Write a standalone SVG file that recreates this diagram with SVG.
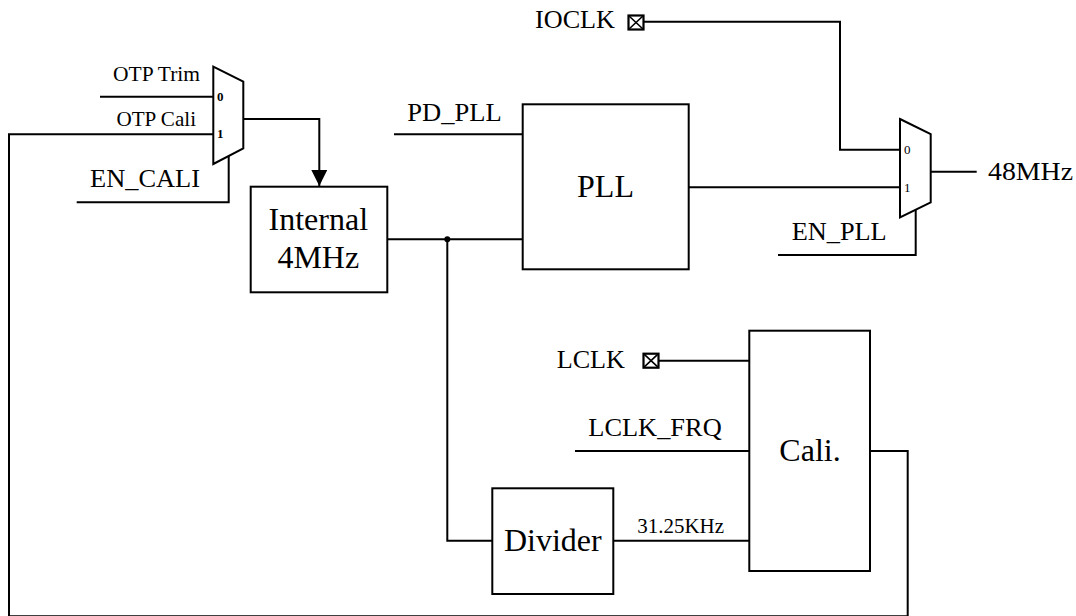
<svg xmlns="http://www.w3.org/2000/svg" width="1076" height="616" viewBox="0 0 1076 616">
<defs>
<style>
.ln{fill:none;stroke:#000;stroke-width:2;stroke-linejoin:miter}
.bx{fill:#fff;stroke:#000;stroke-width:2}
.t{font-family:'Liberation Serif','DejaVu Serif',serif;fill:#000}
.big{font-size:32px}
.med{font-size:26px}
.sm{font-size:21px}
.pin{font-size:13px}
.pinb{font-size:13px;font-weight:bold}
</style>
<marker id="arr" viewBox="0 0 16 16" refX="16" refY="8" markerWidth="16" markerHeight="16" markerUnits="userSpaceOnUse" orient="auto">
<path d="M0,0 L16,8 L0,16 Z" fill="#000"/>
</marker>
<g id="pad">
<rect x="0" y="0" width="15" height="14" fill="#fff" stroke="#000" stroke-width="2.2"/>
<path d="M0,0 L15,14 M15,0 L0,14" stroke="#000" stroke-width="1.6"/>
</g>
</defs>
<rect width="1076" height="616" fill="#fff"/>

<g id="connectors">
<path class="ln" d="M100,96.7 H213.3"/>
<path class="ln" d="M213.3,134.3 H9 V616.3 H907.7 V451 H870"/>
<path class="ln" d="M76.7,202.3 H228.7 V156"/>
<path class="ln" d="M243.3,119 H319.3 V186" marker-end="url(#arr)"/>
<path class="ln" d="M387.3,239.3 H522.7"/>
<path class="ln" d="M447.3,239.3 V540.7 H492.3"/>
<circle cx="447.3" cy="239.3" r="3" fill="#000"/>
<path class="ln" d="M394,134.3 H522.7"/>
<path class="ln" d="M688.7,187.3 H900"/>
<path class="ln" d="M643.5,21.7 H840 V149.7 H900"/>
<path class="ln" d="M778,255 H915.7 V209.6"/>
<path class="ln" d="M930.7,171.7 H976.7"/>
<path class="ln" d="M658.5,360.7 H749.3"/>
<path class="ln" d="M575,451 H749.3"/>
<path class="ln" d="M613.3,540.7 H749.3"/>
</g>

<g id="mux1">
<polygon class="bx" points="213.3,66.7 243.3,81.7 243.3,148.3 213.3,164"/>
<text class="t pinb" x="217" y="100.7">0</text>
<text class="t pinb" x="217" y="138.3">1</text>
</g>
<g id="mux2">
<polygon class="bx" points="900,119 930.7,134 930.7,202.3 900,217.3"/>
<text class="t pin" x="904" y="154">0</text>
<text class="t pin" x="904" y="191.7">1</text>
</g>

<g id="labels-left">
<text class="t sm" x="113" y="80.7" textLength="87" lengthAdjust="spacingAndGlyphs">OTP Trim</text>
<text class="t sm" x="116.5" y="126" textLength="79.5" lengthAdjust="spacingAndGlyphs">OTP Cali</text>
<text class="t med" x="90" y="187.3" textLength="110" lengthAdjust="spacingAndGlyphs">EN_CALI</text>
</g>

<g id="internal">
<rect class="bx" x="250.7" y="186.7" width="136.6" height="105.6"/>
<text class="t big" x="318.3" y="230" text-anchor="middle">Internal</text>
<text class="t big" x="318.3" y="268.3" text-anchor="middle">4MHz</text>
</g>

<g id="pll">
<rect class="bx" x="522.7" y="104.3" width="166" height="165"/>
<text class="t big" x="605.5" y="197.3" text-anchor="middle">PLL</text>
<text class="t med" x="407.3" y="120.7" textLength="94.4" lengthAdjust="spacingAndGlyphs">PD_PLL</text>
</g>

<g id="ioclk">
<text class="t med" x="535" y="28.3" textLength="80" lengthAdjust="spacingAndGlyphs">IOCLK</text>
<use href="#pad" x="628.5" y="15.5"/>
</g>

<g id="out48">
<text class="t med" x="988" y="180" textLength="85" lengthAdjust="spacingAndGlyphs">48MHz</text>
</g>

<g id="enpll">
<text class="t med" x="791.7" y="240" textLength="95" lengthAdjust="spacingAndGlyphs">EN_PLL</text>
</g>

<g id="lclk">
<text class="t med" x="556.7" y="368.3" textLength="68.3" lengthAdjust="spacingAndGlyphs">LCLK</text>
<use href="#pad" x="643.5" y="353.7"/>
</g>

<g id="lclkfrq">
<text class="t med" x="588.3" y="436" textLength="133.4" lengthAdjust="spacingAndGlyphs">LCLK_FRQ</text>
</g>

<g id="cali">
<rect class="bx" x="749.3" y="330.7" width="120.7" height="240.3"/>
<text class="t big" x="810" y="460.7" text-anchor="middle">Cali.</text>
</g>

<g id="divider">
<rect class="bx" x="492.3" y="488.3" width="121" height="105.7"/>
<text class="t big" x="552.8" y="550.7" text-anchor="middle">Divider</text>
<text class="t sm" x="637.3" y="532.7" textLength="86.7" lengthAdjust="spacingAndGlyphs">31.25KHz</text>
</g>
</svg>
